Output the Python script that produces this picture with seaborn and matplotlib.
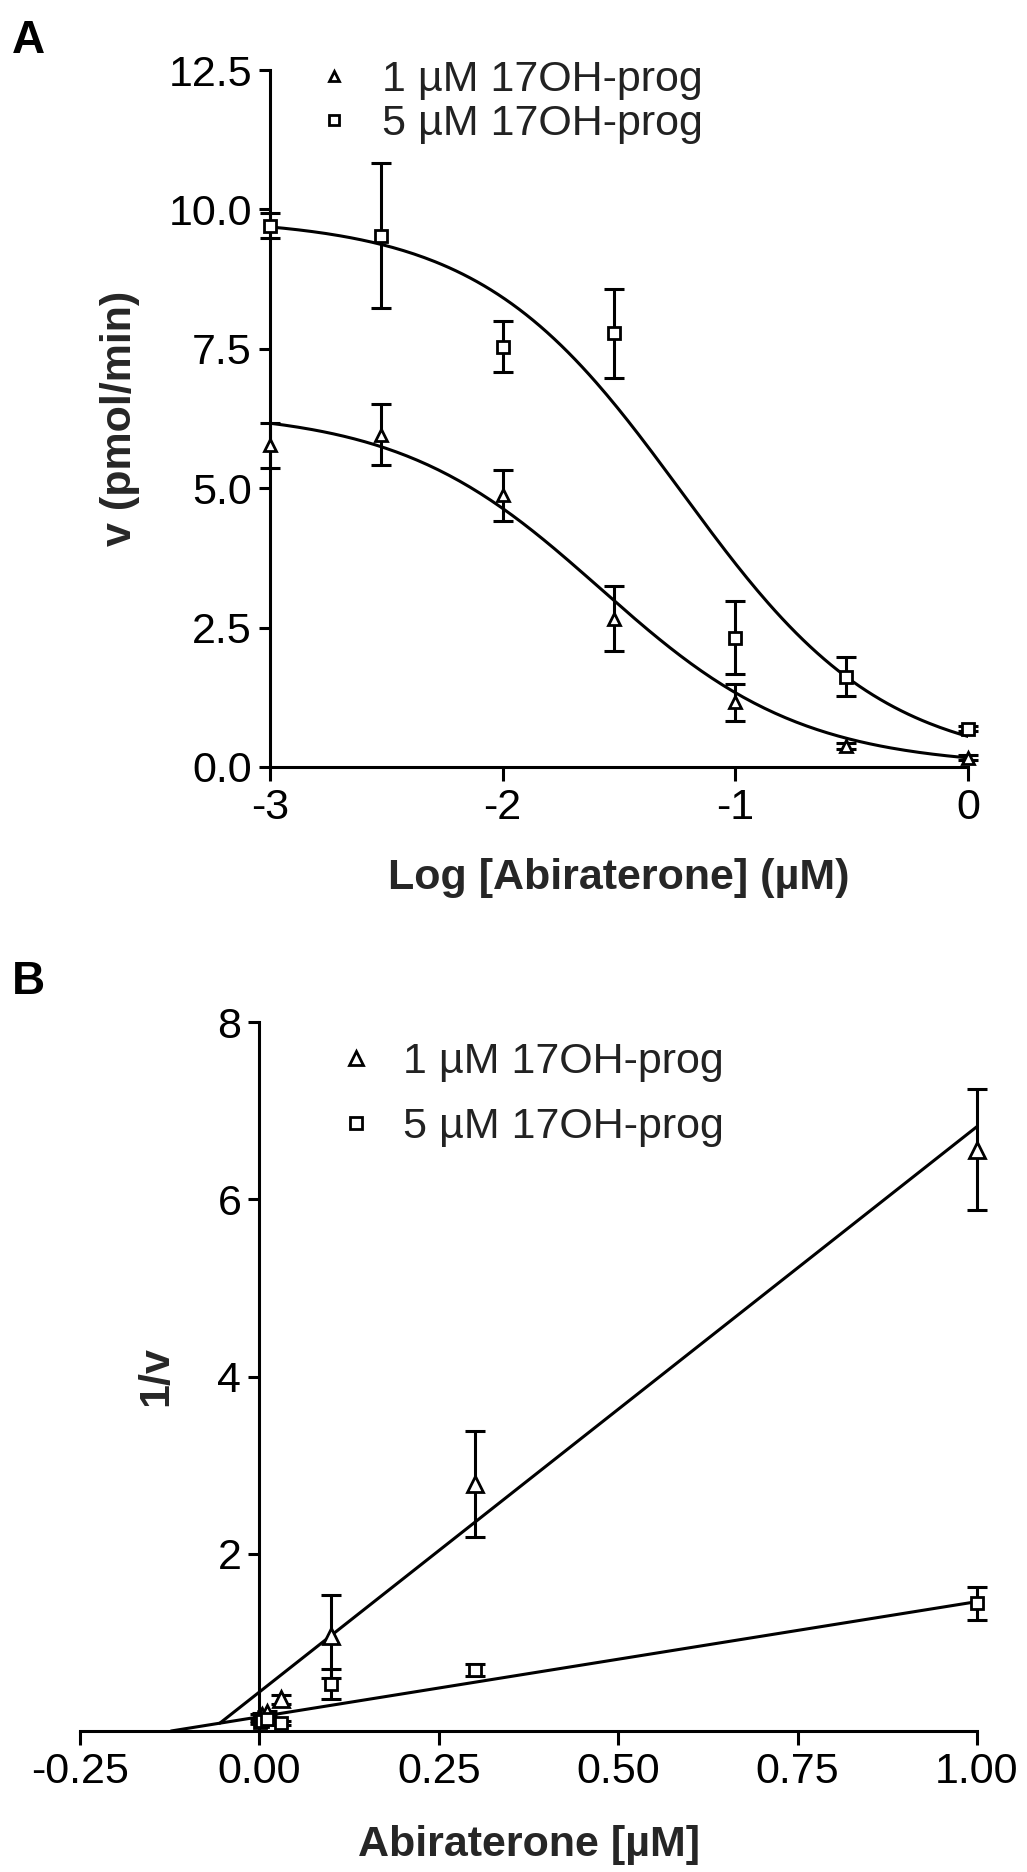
import matplotlib
matplotlib.use("Agg")
import matplotlib.pyplot as plt
import numpy as np
import pandas as pd
import seaborn as sns

# concentrations of abiraterone (uM)
conc = [0.001, 0.003, 0.01, 0.03, 0.1, 0.3, 1.0]
labels = ["1 \u00b5M 17OH-prog", "5 \u00b5M 17OH-prog"]

# panel A: velocity (pmol/min), mean and error
v_1uM = [5.77, 5.96, 4.87, 2.66, 1.16, 0.38, 0.17]
v_1uM_err = [0.40, 0.55, 0.45, 0.58, 0.33, 0.05, 0.05]
v_5uM = [9.71, 9.53, 7.54, 7.78, 2.32, 1.62, 0.69]
v_5uM_err = [0.22, 1.30, 0.45, 0.80, 0.65, 0.35, 0.05]

# sigmoid fit parameters (top, logIC50, hill)
fit_1uM = (6.40, -1.58, 1.0)
fit_5uM = (9.85, -1.23, 1.0)

# panel B: 1/v (Dixon plot)
inv_1uM = [0.17, 0.17, 0.20, 0.36, 1.07, 2.79, 6.56]
inv_1uM_err = [0.02, 0.03, 0.03, 0.05, 0.47, 0.60, 0.68]
inv_5uM = [0.10, 0.11, 0.13, 0.09, 0.53, 0.69, 1.44]
inv_5uM_err = [0.01, 0.02, 0.01, 0.02, 0.17, 0.07, 0.19]

# linear fits (slope, intercept)
lin_1uM = (6.38, 0.44)
lin_5uM = (1.30, 0.16)

sns.set_theme(style="ticks")
plt.rcParams["font.family"] = ["Liberation Sans", "DejaVu Sans"]
LW = 2.2
FS = 31
plt.rcParams.update({
    "axes.linewidth": LW,
    "xtick.major.width": LW,
    "ytick.major.width": LW,
    "xtick.major.size": 10,
    "ytick.major.size": 8,
    "xtick.major.pad": 5,
    "ytick.major.pad": 5,
    "xtick.labelsize": FS,
    "ytick.labelsize": FS,
    "axes.edgecolor": "black",
    "xtick.color": "black",
    "ytick.color": "black",
    "text.color": "#222222",
})

W, H = 1027, 1872
fig = plt.figure(figsize=(W / 100, H / 100), dpi=100)


def rect(x0, y0, x1, y1):
    return [x0 / W, 1 - y1 / H, (x1 - x0) / W, (y1 - y0) / H]


def draw_points(ax, x, y, err, marker, ms, label):
    ax.errorbar(x, y, yerr=err, fmt="none", ecolor="black", elinewidth=LW,
                capsize=7, capthick=LW, clip_on=False, zorder=3)
    ax.plot(x, y, linestyle="none", marker=marker, ms=ms, mfc="white",
            mec="black", mew=2, clip_on=False, zorder=4, label=label)


# ---------- panel A ----------
axA = fig.add_axes(rect(270, 70, 968, 767))
logc = np.log10(conc)
xs = np.linspace(-3, 0, 200)
curves = []
for name, (top, lic, h) in zip(labels, [fit_1uM, fit_5uM]):
    curves.append(pd.DataFrame({"x": xs, "y": top / (1 + 10 ** ((xs - lic) * h)), "s": name}))
sns.lineplot(data=pd.concat(curves), x="x", y="y", units="s", estimator=None,
             color="black", lw=LW, ax=axA, legend=False, zorder=2)
draw_points(axA, logc, v_1uM, v_1uM_err, "^", 9, labels[0])
draw_points(axA, logc, v_5uM, v_5uM_err, "s", 9, labels[1])
axA.set_xlim(-3, 0)
axA.set_ylim(0, 12.5)
axA.set_xticks([-3, -2, -1, 0])
axA.set_xticklabels(["-3", "-2", "-1", "0"])
axA.set_yticks([0, 2.5, 5, 7.5, 10, 12.5])
axA.set_yticklabels([f"{v:.1f}" for v in [0, 2.5, 5, 7.5, 10, 12.5]])
sns.despine(ax=axA)
axA.set_xlabel("Log [Abiraterone] (\u00b5M)", fontsize=FS, fontweight="bold", labelpad=22)
axA.set_ylabel("v (pmol/min)", fontsize=FS, fontweight="bold")
axA.yaxis.set_label_coords((140 - 270) / 698, 0.5)
axA.legend(loc="upper left", bbox_to_anchor=(312 / W, 1 - 60 / H),
           bbox_transform=fig.transFigure, frameon=False, fontsize=FS,
           borderpad=0, borderaxespad=0, handlelength=1.0, handletextpad=0.62,
           labelspacing=0.1, markerscale=0.8)

# ---------- panel B ----------
axB = fig.add_axes(rect(80, 1022, 977, 1731))
(m1, b1), (m5, b5) = lin_1uM, lin_5uM
x_cross = (b5 - b1) / (m1 - m5)
x_zero5 = -b5 / m5
lines = pd.DataFrame({
    "x": [x_cross, 1.0, x_zero5, 1.0],
    "y": [b1 + m1 * x_cross, b1 + m1, 0.0, b5 + m5],
    "s": [labels[0], labels[0], labels[1], labels[1]],
})
sns.lineplot(data=lines, x="x", y="y", units="s", estimator=None,
             color="black", lw=LW, ax=axB, legend=False, zorder=2)
draw_points(axB, conc, inv_1uM, inv_1uM_err, "^", 11, labels[0])
draw_points(axB, conc, inv_5uM, inv_5uM_err, "s", 9, labels[1])
axB.set_xlim(-0.25, 1.0)
axB.set_ylim(0, 8)
axB.set_xticks([-0.25, 0, 0.25, 0.5, 0.75, 1.0])
axB.set_xticklabels([f"{v:.2f}" for v in [-0.25, 0, 0.25, 0.5, 0.75, 1.0]])
axB.set_yticks([2, 4, 6, 8])
axB.set_yticklabels(["2", "4", "6", "8"])
sns.despine(ax=axB)
axB.spines["left"].set_position(("data", 0))
axB.set_xlabel("Abiraterone [\u00b5M]", fontsize=FS, fontweight="bold", labelpad=24)
axB.set_ylabel("1/v", fontsize=FS, fontweight="bold")
axB.yaxis.set_label_coords((176 - 80) / 897, 0.5)
axB.legend(loc="upper left", bbox_to_anchor=(334 / W, 1 - 1042 / H),
           bbox_transform=fig.transFigure, frameon=False, fontsize=FS,
           borderpad=0, borderaxespad=0, handlelength=1.0, handletextpad=0.6,
           labelspacing=0.58, markerscale=0.9)

fig.text(12 / W, 1 - 53 / H, "A", fontsize=33, fontweight="bold", va="baseline", color="black")
fig.text(12 / W, 1 - 994 / H, "B", fontsize=33, fontweight="bold", va="baseline", color="black")

fig.savefig("out.png", dpi=100)
